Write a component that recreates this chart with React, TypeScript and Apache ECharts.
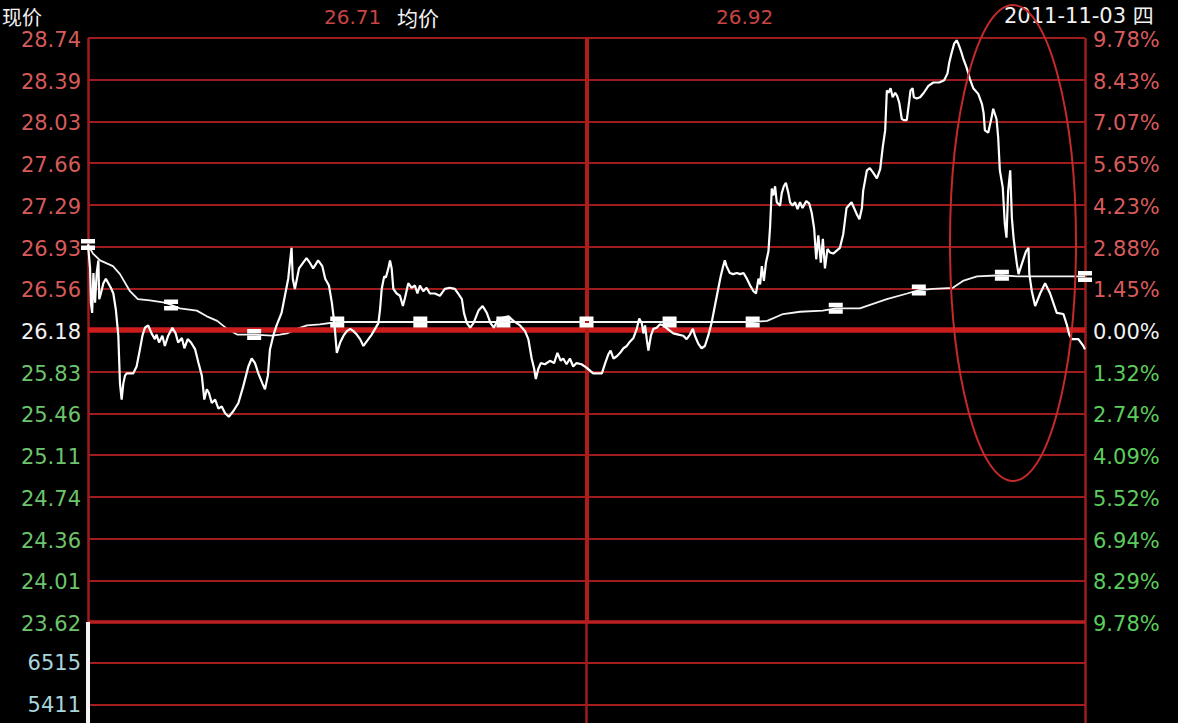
import React, { useEffect, useRef } from 'react';
import * as echarts from 'echarts';

// ---- axis / label data ----
const prevClose = 26.18;
const limitHigh = 28.74;
const leftLabels = ['28.74', '28.39', '28.03', '27.66', '27.29', '26.93', '26.56', '26.18', '25.83', '25.46', '25.11', '24.74', '24.36', '24.01', '23.62'];
const rightLabels = ['9.78%', '8.43%', '7.07%', '5.65%', '4.23%', '2.88%', '1.45%', '0.00%', '1.32%', '2.74%', '4.09%', '5.52%', '6.94%', '8.29%', '9.78%'];
const volumeTicks = [6515, 5411];
const volumeMax = 7600;

// ---- header texts ----
const headerLabels = ['现价', '均价'];
const headerValues = ['26.71', '26.92'];
const headerDate = '2011-11-03 四';

// ---- minute data (minutes after 9:30, price) ----
const priceTimes = [0, 0.5, 0.7, 1.0, 1.3, 1.7, 2.1, 2.5, 2.7, 3.1, 3.7, 4.3, 4.9, 5.5, 6.1, 6.7, 7.3, 7.7, 8.1, 8.5, 8.9, 9.3, 10.9, 11.7, 12.5, 13.1, 13.7, 14.5, 15.3, 16.1, 16.5, 17.1, 17.9, 18.5, 19.3, 20.3, 21.1, 21.7, 22.6, 23.2, 24.0, 24.8, 25.8, 26.6, 27.4, 28.0, 28.6, 29.1, 29.8, 30.6, 31.4, 32.2, 33.0, 33.9, 35.0, 36.2, 37.4, 38.6, 39.4, 40.2, 41.0, 42.0, 42.6, 43.3, 43.8, 44.6, 45.4, 46.6, 47.4, 48.2, 48.6, 49.0, 49.3, 49.8, 50.3, 50.8, 51.8, 52.6, 53.4, 54.2, 55.4, 56.4, 57.1, 58.0, 58.7, 59.3, 59.9, 60.7, 61.5, 62.3, 63.1, 63.9, 64.7, 65.5, 66.3, 67.1, 68.3, 69.1, 69.9, 70.3, 70.7, 71.3, 71.7, 72.3, 72.7, 73.1, 73.5, 74.3, 75.1, 75.8, 76.3, 77.1, 77.9, 78.7, 79.3, 79.9, 80.7, 81.5, 82.3, 83.5, 84.7, 85.9, 87.1, 88.3, 89.1, 90.0, 90.5, 91.2, 92.0, 92.8, 94.0, 95.0, 96.0, 96.9, 97.7, 98.8, 100.0, 101.2, 102.4, 104.0, 105.2, 106.0, 106.8, 107.4, 107.8, 108.4, 109.0, 110.0, 111.2, 112.2, 113.0, 113.8, 114.4, 115.2, 116.0, 116.8, 117.6, 118.8, 120.0, 121.6, 123.7, 124.5, 125.3, 125.8, 126.5, 127.3, 128.1, 128.9, 129.7, 130.5, 131.3, 132.1, 132.7, 133.3, 133.7, 134.1, 134.5, 134.9, 135.5, 136.1, 136.9, 137.7, 138.5, 139.5, 140.9, 142.1, 143.3, 144.1, 144.9, 145.6, 146.1, 146.9, 147.7, 148.5, 149.3, 150.1, 150.9, 151.7, 152.3, 152.9, 153.3, 153.7, 154.5, 155.3, 156.2, 157.0, 157.8, 158.6, 159.4, 160.2, 160.8, 161.4, 161.8, 162.2, 162.7, 163.2, 163.8, 164.2, 164.6, 165.0, 165.4, 165.8, 166.6, 167.0, 167.5, 168.0, 168.6, 169.0, 169.6, 170.2, 170.8, 171.4, 172.0, 172.9, 173.6, 174.2, 174.8, 175.3, 175.8, 176.4, 176.9, 177.4, 178.0, 178.6, 179.4, 181.0, 181.8, 182.6, 183.8, 185.0, 185.7, 186.3, 186.6, 187.5, 188.2, 189.0, 189.9, 190.7, 191.3, 191.9, 192.3, 192.7, 193.2, 193.7, 194.3, 194.8, 195.3, 195.9, 196.4, 197.1, 197.7, 198.0, 198.5, 198.8, 199.5, 200.3, 201.2, 202.3, 203.5, 204.9, 206.1, 206.9, 207.3, 207.9, 208.5, 209.1, 209.5, 210.1, 210.7, 211.5, 212.3, 213.1, 214.3, 215.2, 215.6, 215.9, 216.7, 217.5, 217.9, 218.7, 219.1, 219.5, 220.2, 220.7, 221.1, 221.5, 222.0, 222.4, 222.8, 223.2, 223.6, 224.0, 224.8, 225.8, 226.4, 226.6, 227.2, 228.0, 229.2, 230.4, 231.6, 233.2, 234.8, 235.6, 236.2, 236.8, 238.4, 239.6, 240.0];
const priceValues = [26.93, 26.72, 26.42, 26.33, 26.68, 26.42, 26.68, 26.79, 26.45, 26.50, 26.59, 26.63, 26.59, 26.55, 26.50, 26.36, 26.13, 25.71, 25.57, 25.71, 25.78, 25.80, 25.80, 25.86, 26.01, 26.13, 26.20, 26.22, 26.15, 26.10, 26.14, 26.07, 26.13, 26.04, 26.13, 26.20, 26.15, 26.07, 26.11, 26.02, 26.10, 26.07, 26.01, 25.89, 25.78, 25.57, 25.66, 25.63, 25.54, 25.57, 25.49, 25.51, 25.45, 25.42, 25.47, 25.54, 25.69, 25.86, 25.93, 25.89, 25.80, 25.71, 25.66, 25.78, 26.01, 26.13, 26.22, 26.33, 26.48, 26.63, 26.77, 26.90, 26.63, 26.54, 26.63, 26.72, 26.77, 26.81, 26.77, 26.72, 26.79, 26.74, 26.63, 26.57, 26.42, 26.24, 25.98, 26.07, 26.13, 26.17, 26.19, 26.17, 26.14, 26.10, 26.04, 26.08, 26.14, 26.19, 26.24, 26.36, 26.54, 26.65, 26.64, 26.72, 26.79, 26.72, 26.54, 26.50, 26.48, 26.39, 26.46, 26.59, 26.55, 26.57, 26.50, 26.57, 26.52, 26.55, 26.50, 26.50, 26.48, 26.54, 26.55, 26.54, 26.50, 26.45, 26.33, 26.24, 26.20, 26.24, 26.35, 26.39, 26.33, 26.24, 26.20, 26.28, 26.29, 26.30, 26.26, 26.22, 26.17, 26.10, 25.93, 25.84, 25.75, 25.84, 25.89, 25.88, 25.91, 25.89, 25.98, 25.91, 25.93, 25.88, 25.93, 25.86, 25.89, 25.88, 25.85, 25.80, 25.80, 25.89, 25.97, 26.00, 25.93, 25.95, 25.98, 26.02, 26.04, 26.08, 26.11, 26.19, 26.28, 26.24, 26.15, 26.22, 26.10, 26.00, 26.13, 26.19, 26.20, 26.23, 26.22, 26.19, 26.15, 26.14, 26.13, 26.10, 26.14, 26.19, 26.13, 26.06, 26.02, 26.04, 26.13, 26.24, 26.39, 26.54, 26.65, 26.74, 26.79, 26.74, 26.68, 26.67, 26.68, 26.67, 26.68, 26.63, 26.57, 26.52, 26.50, 26.63, 26.58, 26.74, 26.61, 26.77, 26.87, 27.09, 27.42, 27.36, 27.44, 27.30, 27.27, 27.38, 27.44, 27.47, 27.38, 27.30, 27.27, 27.30, 27.24, 27.30, 27.25, 27.31, 27.29, 27.21, 27.07, 26.80, 27.01, 26.77, 26.98, 26.72, 26.89, 26.86, 26.85, 26.90, 27.02, 27.25, 27.30, 27.20, 27.15, 27.25, 27.40, 27.58, 27.60, 27.56, 27.51, 27.59, 27.78, 27.93, 28.28, 28.26, 28.30, 28.22, 28.26, 28.23, 28.17, 28.03, 28.02, 28.02, 28.19, 28.28, 28.30, 28.22, 28.21, 28.22, 28.26, 28.32, 28.35, 28.35, 28.37, 28.43, 28.52, 28.61, 28.69, 28.72, 28.69, 28.63, 28.56, 28.48, 28.38, 28.30, 28.25, 28.16, 28.08, 27.93, 27.91, 28.04, 28.12, 28.03, 27.87, 27.58, 27.43, 27.11, 26.99, 27.40, 27.58, 27.16, 26.99, 26.87, 26.76, 26.67, 26.76, 26.87, 26.90, 26.67, 26.52, 26.39, 26.50, 26.59, 26.50, 26.33, 26.32, 26.23, 26.14, 26.10, 26.10, 26.04, 26.01];

const avgTimes = [0, 1.2, 2.9, 6, 7.7, 10.1, 12, 14.9, 18.5, 20, 22.1, 26.2, 28.6, 31.1, 33.5, 35.9, 40, 44.3, 46.2, 47.9, 50.3, 52.7, 55.8, 60, 80, 100, 120, 140, 160, 163.5, 167.3, 171.4, 176.9, 180, 185.8, 192.3, 197.2, 200, 203.4, 208.2, 210.6, 214, 220, 223.6, 231.6, 240];
const avgValues = [26.93, 26.85, 26.79, 26.74, 26.67, 26.52, 26.45, 26.44, 26.42, 26.40, 26.37, 26.35, 26.30, 26.26, 26.19, 26.14, 26.14, 26.13, 26.14, 26.15, 26.19, 26.22, 26.23, 26.25, 26.25, 26.25, 26.25, 26.25, 26.25, 26.26, 26.32, 26.34, 26.35, 26.37, 26.37, 26.45, 26.50, 26.53, 26.54, 26.55, 26.61, 26.65, 26.66, 26.65, 26.65, 26.65];

const volumeTimes = [0];
const volumeValues = [9800];

export default function App() {
  const ref = useRef<HTMLDivElement>(null);
  useEffect(() => {
    if (!ref.current) return;
    const chart = echarts.init(ref.current, undefined, { renderer: 'svg' });
    const step = (limitHigh - prevClose) / 7;
    const priceTicks = leftLabels.map((_, i) => prevClose + (7 - i) * step);
    const idxOf = (v: number) => Math.round((limitHigh - v) / step);
    const keyOf = (i: number) => (i < 7 ? 'up' : i === 7 ? 'flat' : 'down');
    const font = { fontFamily: '"DejaVu Sans"', fontSize: 21 };
    const red = '#9e1c1c';

    const avgPairs = avgTimes.map((t, i) => [t, avgValues[i]]);
    const markerPairs = avgPairs.filter((p) => Math.abs(p[0] % 20) < 1e-9);

    chart.setOption({
      animation: false,
      backgroundColor: '#000',
      grid: [
        { left: 88, right: 93, top: 38, height: 584, containLabel: false, outerBoundsMode: 'none' },
        { left: 88, right: 93, top: 622, height: 287, containLabel: false, outerBoundsMode: 'none' },
      ],
      xAxis: [
        {
          type: 'value', gridIndex: 0, min: 0, max: 240, interval: 120,
          axisLine: { show: false }, axisTick: { show: false }, axisLabel: { show: false },
          splitLine: { show: true, lineStyle: { color: red, width: 2.5 } },
        },
        {
          type: 'value', gridIndex: 1, min: 0, max: 240, interval: 120,
          axisLine: { show: false }, axisTick: { show: false }, axisLabel: { show: false },
          splitLine: { show: true, lineStyle: { color: red, width: 2.5 } },
        },
      ],
      yAxis: [
        {
          type: 'value', gridIndex: 0, position: 'left', min: prevClose - 7 * step, max: limitHigh,
          axisLine: { show: false },
          axisTick: { show: false, customValues: priceTicks },
          splitLine: { show: true, lineStyle: { color: red, width: 2 } },
          axisLabel: {
            customValues: priceTicks, margin: 7, padding: [4, 0, 0, 0],
            formatter: (v: number) => {
              const i = idxOf(v);
              return `{${keyOf(i)}|${leftLabels[i]}}`;
            },
            rich: {
              up: { ...font, color: '#d65a5a' },
              flat: { ...font, color: '#f2f2f2' },
              down: { ...font, color: '#6cc46c' },
            },
          },
        },
        {
          type: 'value', gridIndex: 0, position: 'right', min: prevClose - 7 * step, max: limitHigh,
          axisLine: { show: false },
          axisTick: { show: false, customValues: priceTicks },
          splitLine: { show: false },
          axisLabel: {
            customValues: priceTicks, margin: 8, padding: [4, 0, 0, 0],
            formatter: (v: number) => {
              const i = idxOf(v);
              return `{${keyOf(i)}|${rightLabels[i]}}`;
            },
            rich: {
              up: { ...font, color: '#d85a5a' },
              flat: { ...font, color: '#f2f2f2' },
              down: { ...font, color: '#5ccc5c' },
            },
          },
        },
        {
          type: 'value', gridIndex: 1, position: 'left', min: 0, max: volumeMax,
          axisLine: { show: false },
          axisTick: { show: false, customValues: volumeTicks },
          splitLine: { show: true, lineStyle: { color: '#a41e1e', width: 2 } },
          axisLabel: {
            customValues: volumeTicks, margin: 7, padding: [4, 0, 0, 0],
            formatter: (v: number) => String(Math.round(v)),
            ...font, color: '#a8d6dc',
          },
        },
      ],
      series: [
        {
          type: 'line', xAxisIndex: 0, yAxisIndex: 0, z: 3,
          data: avgPairs, showSymbol: false, silent: true,
          lineStyle: { color: '#f4f4f4', width: 1.8 },
          markLine: {
            silent: true, symbol: ['none', 'none'], label: { show: false },
            data: [
              { yAxis: prevClose, lineStyle: { color: '#cc1c1c', width: 5.5, type: 'solid' } },
              { yAxis: prevClose - 7 * step, lineStyle: { color: '#bb1f1f', width: 3.5, type: 'solid' } },
              { xAxis: 120, lineStyle: { color: '#b01c1c', width: 4, type: 'solid' } },
            ],
          },
        },
        {
          type: 'scatter', xAxisIndex: 0, yAxisIndex: 0, z: 6, silent: true,
          data: markerPairs,
          symbol: 'path://M0,0H14V4.5H0Z M0,6.5H14V11H0Z',
          symbolSize: [14, 11],
          itemStyle: { color: '#ffffff', opacity: 1 },
        },
        {
          type: 'line', xAxisIndex: 0, yAxisIndex: 0, z: 5, silent: true,
          data: priceTimes.map((t, i) => [t, priceValues[i]]),
          showSymbol: false,
          lineStyle: { color: '#ffffff', width: 2.2 },
        },
        {
          type: 'bar', xAxisIndex: 1, yAxisIndex: 2, z: 5, silent: true,
          data: volumeTimes.map((t, i) => [t, volumeValues[i]]),
          barWidth: 4, itemStyle: { color: '#f4f4f4' },
        },
      ],
      graphic: [
        { type: 'text', x: 2, y: 16, z: 50, style: { text: headerLabels[0], fill: '#f2f2f2', fontSize: 20, fontFamily: '"Noto Sans CJK SC"', verticalAlign: 'middle' } },
        { type: 'text', x: 324, y: 17, z: 50, style: { text: headerValues[0], fill: '#c94444', fontSize: 20, fontFamily: '"DejaVu Sans"', verticalAlign: 'middle' } },
        { type: 'text', x: 397, y: 17, z: 50, style: { text: headerLabels[1], fill: '#f2f2f2', fontSize: 21, fontFamily: '"Noto Sans CJK SC"', verticalAlign: 'middle' } },
        { type: 'text', x: 716, y: 17, z: 50, style: { text: headerValues[1], fill: '#c94444', fontSize: 20, fontFamily: '"DejaVu Sans"', verticalAlign: 'middle' } },
        { type: 'text', x: 1004, y: 16, z: 50, style: { text: headerDate, fill: '#f2f2f2', fontSize: 21, fontFamily: '"DejaVu Sans", "Noto Sans CJK SC"', verticalAlign: 'middle' } },
        { type: 'ellipse', z: 60, silent: true, shape: { cx: 1013, cy: 243, rx: 63, ry: 238 }, style: { fill: 'none', stroke: '#c42a2a', lineWidth: 2 } },
      ],
    });
    return () => chart.dispose();
  }, []);
  return <div ref={ref} style={{ position: 'fixed', left: 0, top: 0, width: 1178, height: 723, background: '#000' }} />;
}
